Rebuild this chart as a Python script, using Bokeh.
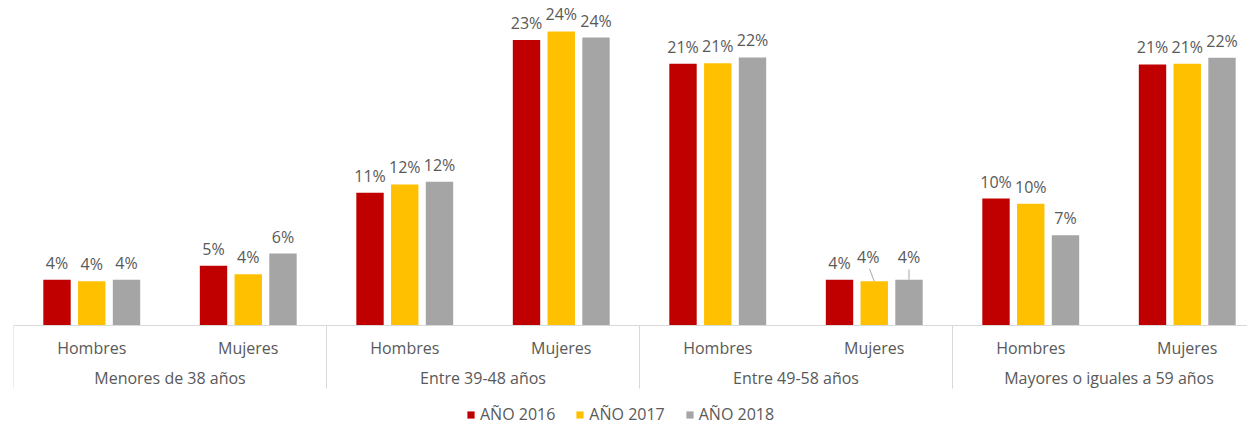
import numpy as np
from bokeh.plotting import figure
from bokeh.models import (ColumnDataSource, Range1d, Span, Legend, LegendItem)
from bokeh.transform import dodge
from bokeh.core.properties import value
from bokeh.embed import file_html
from bokeh.resources import INLINE

# ---------------- data ----------------
age_groups = ["Menores de 38 años", "Entre 39-48 años",
              "Entre 49-58 años", "Mayores o iguales a 59 años"]
genders = ["Hombres", "Mujeres"]
series_names = ["AÑO 2016", "AÑO 2017", "AÑO 2018"]

anio_2016 = [3.75, 4.89, 10.88, 23.4, 21.45, 3.75, 10.4, 21.4]
anio_2017 = [3.63, 4.2, 11.56, 24.1, 21.49, 3.63, 9.98, 21.45]
anio_2018 = [3.75, 5.9, 11.78, 23.6, 21.97, 3.75, 7.4, 21.94]

# ---------------- style ----------------
colors = ["#C00000", "#FFC000", "#A5A5A5"]
text_color = "#595959"
line_color = "#D9D9D9"
FONT = "Open Sans"
offsets = [-0.222, 0.0, 0.222]
bar_width = 0.175
PX_PER_UNIT = 12.2          # vertical scale (pixels per percentage point)

n_cat = len(age_groups) * len(genders)
cat_x = np.arange(n_cat) + 0.5          # centre of each (group, gender) slot
group_x = np.arange(len(age_groups)) * 2 + 1.0
boundaries = np.arange(len(age_groups) + 1) * 2.0

# label adjustments (pixels) for the crowded "Entre 49-58 / Mujeres" labels
label_adjust = {(5, 1): (-6, -7), (5, 2): (0, -6)}
# leader lines for the moved labels (data units)
leader = {(5, 1): (-0.03, 1.0), (5, 2): (0.0, 0.85)}

p = figure(width=1247, height=425,
           x_range=Range1d(0, 7.885),
           y_range=Range1d(-100 / PX_PER_UNIT, 325 / PX_PER_UNIT),
           x_axis_type=None, y_axis_type=None,
           output_backend="svg", toolbar_location=None,
           min_border_left=13, min_border_right=0, min_border_top=0,
           min_border_bottom=0, outline_line_color=None)

# category axis (drawn inside the frame)
p.add_layout(Span(location=0, dimension="width", line_color=line_color,
                  line_width=1))
p.segment(x0=boundaries, y0=np.zeros(len(boundaries)),
          x1=boundaries, y1=np.full(len(boundaries), -63 / PX_PER_UNIT),
          line_color=line_color, line_width=1)
p.text(x=cat_x, y=np.zeros(n_cat), text=[genders[i % 2] for i in range(n_cat)],
       y_offset=22, text_align="center", text_baseline="middle",
       text_font=value(FONT), text_font_size="16px", text_color=text_color)
p.text(x=group_x, y=np.zeros(len(group_x)), text=age_groups,
       y_offset=52, text_align="center", text_baseline="middle",
       text_font=value(FONT), text_font_size="16px", text_color=text_color)

renderers = []
for s, vals in enumerate([anio_2016, anio_2017, anio_2018]):
    dx = [label_adjust.get((i, s), (0, 0))[0] for i in range(n_cat)]
    dy = [-17 + label_adjust.get((i, s), (0, 0))[1] for i in range(n_cat)]
    src = ColumnDataSource(dict(
        x=cat_x, top=vals,
        label=[f"{v:.0f}%" for v in vals],
        dx=dx, dy=dy))
    r = p.vbar(x=dodge("x", offsets[s]), top="top", width=bar_width,
               source=src, fill_color=colors[s], line_color=None)
    renderers.append(r)
    p.text(x=dodge("x", offsets[s]), y="top", text="label", source=src,
           x_offset="dx", y_offset="dy",
           text_align="center", text_baseline="alphabetic",
           text_font=value(FONT), text_font_size="16px",
           text_color=text_color)
    lx0, ly0, lx1, ly1 = [], [], [], []
    for (i, ss), (ddx, ddy) in leader.items():
        if ss == s:
            xc = cat_x[i] + offsets[s]
            lx0.append(xc); ly0.append(vals[i])
            lx1.append(xc + ddx); ly1.append(vals[i] + ddy)
    if lx0:
        p.segment(x0=lx0, y0=ly0, x1=lx1, y1=ly1,
                  line_color="#A6A6A6", line_width=1)

legend = Legend(items=[LegendItem(label=series_names[i], renderers=[renderers[i]])
                       for i in range(3)],
                location=(453, 0), orientation="horizontal",
                glyph_width=9, glyph_height=9, label_standoff=5, spacing=20,
                padding=0, margin=0, label_height=16,
                border_line_color=None, background_fill_alpha=0,
                label_text_font=FONT, label_text_font_size="16px",
                label_text_color=text_color)
p.add_layout(legend)

open("out.html", "w").write(file_html(p, INLINE))
